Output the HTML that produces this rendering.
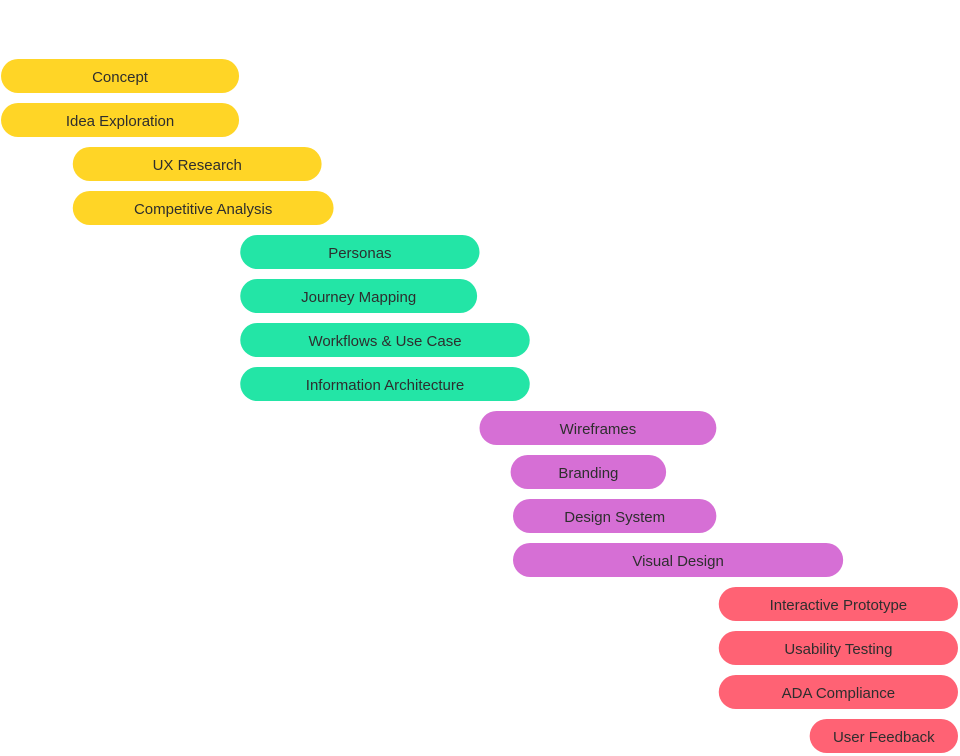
<!DOCTYPE html>
<html><head><meta charset="utf-8"><style>
html,body{margin:0;padding:0;background:#fff;width:960px;height:756px;overflow:hidden}
svg text{font-family:"Liberation Sans",Arial,sans-serif;font-size:15px;fill:#2e2e2e}
</style></head><body>
<svg id="chart" width="960" height="756" xmlns="http://www.w3.org/2000/svg"></svg>
<script>
const tasks = ["Concept","Idea Exploration","UX Research","Competitive Analysis","Personas","Journey Mapping","Workflows & Use Case","Information Architecture","Wireframes","Branding","Design System","Visual Design","Interactive Prototype","Usability Testing","ADA Compliance","User Feedback"];
const starts = [0,0,30,30,100,100,100,100,200,213,214,214,300,300,300,338];
const ends = [99.5,99.5,134,139,200,199,221,221,299,278,299,352,400,400,400,400];
const phases = [0,0,0,0,1,1,1,1,2,2,2,2,3,3,3,3];
const phaseColors = ["#FFD526","#23E5A6","#D66FD5","#FF6274"];
const xScale = v => 1 + v * (957 / 400);
const yScale = i => 59 + i * 44;
const barH = 34;
const svg = document.getElementById('chart');
const NS = 'http://www.w3.org/2000/svg';
tasks.forEach((t, i) => {
  const x0 = xScale(starts[i]), x1 = xScale(ends[i]), y = yScale(i);
  const g = document.createElementNS(NS, 'g');
  
  
  const r = document.createElementNS(NS, 'rect');
  
  
  r.setAttribute('x', x0); r.setAttribute('y', y);
  r.setAttribute('width', x1 - x0); r.setAttribute('height', barH);
  r.setAttribute('rx', barH / 2);
  r.setAttribute('fill', phaseColors[phases[i]]);
  g.appendChild(r);
  const tx = document.createElementNS(NS, 'text');
  
  
  tx.setAttribute('x', (x0 + x1) / 2); tx.setAttribute('y', y + barH / 2 + 6);
  tx.setAttribute('text-anchor', 'middle');
  tx.textContent = t;
  g.appendChild(tx);
  svg.appendChild(g);
});
</script>
</body></html>
